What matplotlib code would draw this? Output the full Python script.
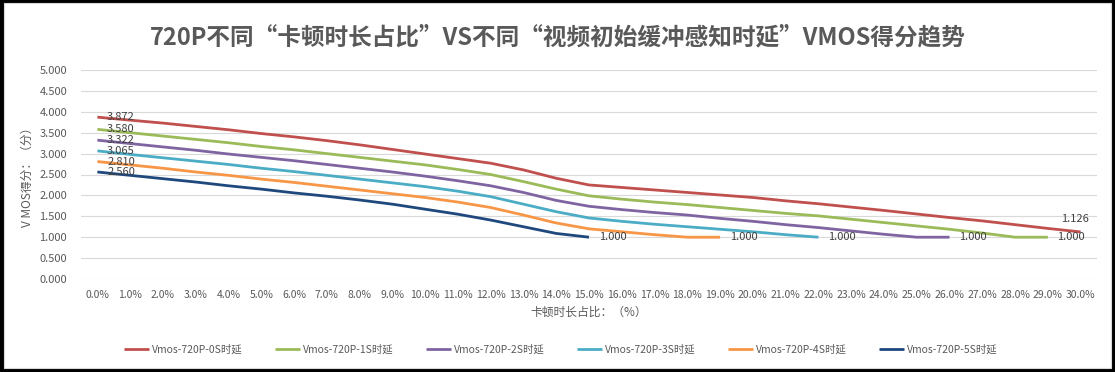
import matplotlib
matplotlib.use("Agg")
import matplotlib.pyplot as plt
from matplotlib.patches import Rectangle

plt.rcParams['font.family'] = ['Noto Sans CJK SC', 'DejaVu Sans']

# categories: stall ratio 0.0% .. 30.0%
categories = ['%.1f%%' % v for v in range(0, 31)]

vmos_0s = [3.872, 3.80, 3.73, 3.65, 3.57, 3.48, 3.40, 3.31, 3.21, 3.10, 2.99,
           2.88, 2.77, 2.61, 2.41, 2.25, 2.19, 2.13, 2.07, 2.01, 1.95,
           1.87, 1.80, 1.72, 1.64, 1.555, 1.47, 1.39, 1.30, 1.21, 1.126]
vmos_1s = [3.580, 3.50, 3.42, 3.34, 3.26, 3.17, 3.09, 3.00, 2.91, 2.82, 2.73,
           2.62, 2.50, 2.33, 2.15, 1.99, 1.91, 1.84, 1.78, 1.71, 1.64,
           1.57, 1.51, 1.43, 1.35, 1.27, 1.19, 1.10, 1.00, 1.000]
vmos_2s = [3.322, 3.24, 3.16, 3.08, 2.99, 2.91, 2.83, 2.74, 2.65, 2.56, 2.46,
           2.35, 2.23, 2.07, 1.88, 1.74, 1.66, 1.59, 1.53, 1.45, 1.38,
           1.30, 1.23, 1.15, 1.07, 1.00, 1.000]
vmos_3s = [3.065, 2.98, 2.90, 2.82, 2.74, 2.65, 2.57, 2.48, 2.39, 2.30, 2.21,
           2.10, 1.97, 1.79, 1.61, 1.46, 1.38, 1.31, 1.25, 1.19, 1.13,
           1.06, 1.000]
vmos_4s = [2.810, 2.73, 2.65, 2.56, 2.48, 2.39, 2.31, 2.22, 2.13, 2.04, 1.95,
           1.84, 1.71, 1.53, 1.34, 1.20, 1.13, 1.06, 1.00, 1.000]
vmos_5s = [2.560, 2.48, 2.40, 2.32, 2.23, 2.15, 2.06, 1.98, 1.89, 1.79, 1.67,
           1.55, 1.41, 1.25, 1.09, 1.000]

series = [vmos_0s, vmos_1s, vmos_2s, vmos_3s, vmos_4s, vmos_5s]
names = ['Vmos-720P-0S时延', 'Vmos-720P-1S时延', 'Vmos-720P-2S时延',
         'Vmos-720P-3S时延', 'Vmos-720P-4S时延', 'Vmos-720P-5S时延']
colors = ['#C0504D', '#9BBB59', '#8064A2', '#4BACC6', '#F79646', '#1F497D']

title = '720P不同“卡顿时长占比”VS不同“视频初始缓冲感知时延”VMOS得分趋势'
grey = '#595959'

fig = plt.figure(figsize=(11.15, 3.72), dpi=100, facecolor='black')
# white chart area inside the black frame
fig.patches.append(Rectangle((4 / 1115, 4 / 372), 1107 / 1115, 365 / 372,
                             transform=fig.transFigure, facecolor='white',
                             edgecolor='#d9d9d9', linewidth=0.8, zorder=-5))

ax = fig.add_axes([81 / 1115, 93 / 372, 1016 / 1115, 209 / 372])
ax.set_facecolor('white')

for vals, name, c in zip(series, names, colors):
    x = list(range(len(vals)))
    ax.plot(x, vals, color=c, lw=2.0, label=name, solid_capstyle='butt')
    # first point label
    ax.annotate('%.3f' % vals[0], (0, vals[0]), xytext=(7, 0),
                textcoords='offset points', va='center', ha='left',
                fontsize=8, color='#404040')
    # last point label
    if name.endswith('0S时延'):
        ax.annotate('%.3f' % vals[-1], (x[-1], vals[-1]), xytext=(-4, 9),
                    textcoords='offset points', va='center', ha='center',
                    fontsize=8, color='#404040')
    else:
        ax.annotate('%.3f' % vals[-1], (x[-1], vals[-1]), xytext=(7, 0),
                    textcoords='offset points', va='center', ha='left',
                    fontsize=8, color='#404040')

ax.set_xlim(-0.5, 30.5)
ax.set_ylim(0, 5)
ax.set_yticks([i * 0.5 for i in range(11)])
ax.set_yticklabels(['%.3f' % (i * 0.5) for i in range(11)])
ax.set_xticks(range(len(categories)))
ax.set_xticklabels(categories)
ax.tick_params(axis='both', length=0, colors=grey)
ax.tick_params(axis='x', pad=8, labelsize=7.5)
ax.tick_params(axis='y', pad=10, labelsize=8)
ax.grid(axis='y', color='#d9d9d9', lw=0.8)
ax.set_axisbelow(True)
for s in ax.spines.values():
    s.set_visible(False)

ax.set_xlabel('卡顿时长占比：（%）', fontsize=8.5, color=grey, labelpad=4)
ax.set_ylabel('V MOS得分：（分）', fontsize=8.5, color=grey, labelpad=4)

fig.text(0.5, 1 - 37 / 372, title, ha='center', va='center', fontsize=17,
         fontweight='bold', color=grey)

fig.legend(loc='center', bbox_to_anchor=(0.503, 1 - 349 / 372), ncol=6,
           frameon=False, fontsize=7.5, handlelength=2.4, columnspacing=3.1,
           handletextpad=0.3, labelcolor=grey)

fig.savefig('out.png', dpi=100, facecolor='black')
